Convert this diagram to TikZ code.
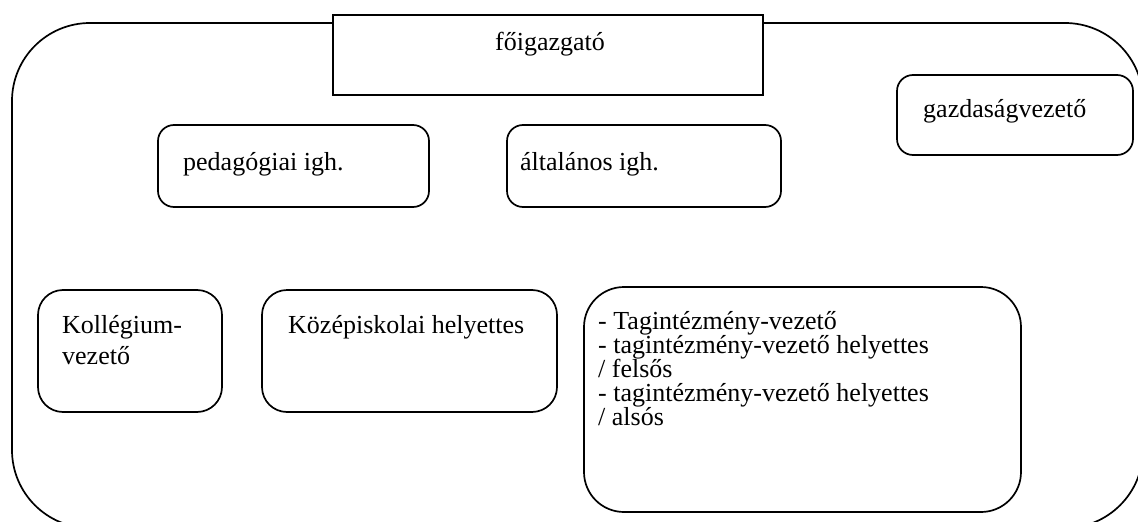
\documentclass[tikz,border=0pt]{standalone}
\usepackage{fontspec}
\setmainfont{Liberation Serif}
\begin{document}
\begin{tikzpicture}[x=1pt,y=-1pt,
  frame/.style={draw=black,line width=1.7pt},
  rbox/.style={frame,fill=white,rounded corners=#1},
  rbox/.default=16pt,
  txt/.style={inner sep=0pt,anchor=base west,font=\fontsize{26}{24}\selectfont},
  lst/.style={txt,anchor=north west,align=left,font=\fontsize{26}{24}\selectfont}
]
\useasboundingbox (0,0) rectangle (1138,522);
\clip (0,0) rectangle (1138,522);

% outer rounded frame (partly beyond the page)
\draw[frame,rounded corners=78pt] (12,23) rectangle (1143,528);

% top box
\node[frame,fill=white,inner sep=0pt,minimum width=430pt,minimum height=80pt] (fo) at (548,55) {};
\node[txt,anchor=base] (fot) at (550,50) {főigazgató};

% deputies
\node[rbox,inner sep=0pt,minimum width=271pt,minimum height=82pt] (ped) at (293.5,166) {};
\node[txt] (pedt) at (183,170) {pedagógiai igh.};

\node[rbox,inner sep=0pt,minimum width=274pt,minimum height=82pt] (alt) at (644,166) {};
\node[txt] (altt) at (520,170) {általános igh.};

\node[rbox,inner sep=0pt,minimum width=236pt,minimum height=80pt] (gaz) at (1015,115) {};
\node[txt] (gazt) at (923,117) {gazdaságvezető};

% lower row
\node[rbox=25pt,inner sep=0pt,minimum width=184pt,minimum height=122pt] (kol) at (130,351) {};
\node[txt] (kolt1) at (62,333) {Kollégium-};
\node[txt] (kolt2) at (62,364) {vezető};

\node[rbox=25pt,inner sep=0pt,minimum width=295pt,minimum height=122pt] (koz) at (409.5,351) {};
\node[txt] (kozt) at (288,333) {Középiskolai helyettes};

\node[rbox=40pt,inner sep=0pt,minimum width=437pt,minimum height=225pt] (tag) at (802.5,399.5) {};
\node[txt] (tag1) at (598,329) {- Tagintézmény-vezető};
\node[txt] (tag2) at (598,353) {- tagintézmény-vezető helyettes};
\node[txt] (tag3) at (598,377) {/ felsős};
\node[txt] (tag4) at (598,401) {- tagintézmény-vezető helyettes};
\node[txt] (tag5) at (598,425) {/ alsós};
\end{tikzpicture}
\end{document}
